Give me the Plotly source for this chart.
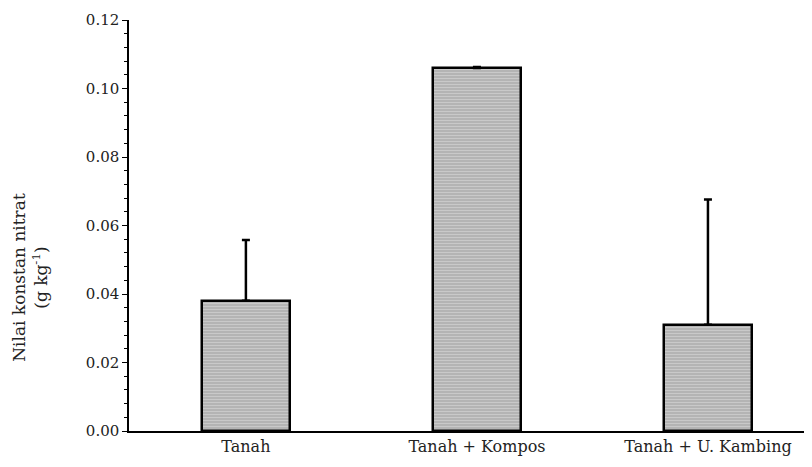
import plotly.graph_objects as go

categories = ["Tanah", "Tanah + Kompos", "Tanah + U. Kambing"]
values = [0.038, 0.106, 0.031]
errors = [0.0178, 0.0003, 0.0366]
y_ticks = [0.00, 0.02, 0.04, 0.06, 0.08, 0.10, 0.12]

fig = go.Figure()
fig.add_trace(go.Bar(
    x=[0, 1, 2],
    y=values,
    width=0.38,
    marker=dict(
        color="#c0c0c0",
        line=dict(color="black", width=2.5),
        pattern=dict(shape="-", fgcolor="#dedede", bgcolor="#b4b4b4", size=3, solidity=0.35),
    ),
    error_y=dict(type="data", symmetric=False, array=errors, arrayminus=[0, 0, 0],
                 color="black", thickness=2.5, width=4),
))

font_family = "DejaVu Serif, serif"
fig.update_layout(
    width=812, height=467,
    margin=dict(l=121, r=0, t=12, b=44),
    paper_bgcolor="white", plot_bgcolor="white",
    showlegend=False,
    font=dict(family=font_family, size=16, color="#222"),
    bargap=0,
)
fig.update_xaxes(
    range=[-0.506, 2.485],
    tickmode="array", tickvals=[0, 1, 2], ticktext=categories,
    showline=True, linecolor="black", linewidth=1.5,
    ticks="", showgrid=False, zeroline=False,
    tickfont=dict(size=16, family=font_family, color="#222"),
)
fig.update_yaxes(
    range=[0, 0.12],
    tickmode="array", tickvals=y_ticks, ticktext=[f"{v:.2f}" for v in y_ticks],
    showline=True, linecolor="black", linewidth=1.5,
    ticks="outside", ticklen=5, tickwidth=1, tickcolor="black",
    minor=dict(ticks="outside", ticklen=3, dtick=0.004, tickcolor="black", tickwidth=1),
    showgrid=False, zeroline=False,
    tickfont=dict(size=15, family=font_family, color="#222"),
)
fig.add_annotation(
    text="Nilai konstan nitrat<br>(g kg<sup>-1</sup>)",
    textangle=-90, showarrow=False,
    xref="paper", yref="paper", x=-0.1433, y=0.375,
    xanchor="center", yanchor="middle",
    font=dict(size=17, family=font_family, color="#222"),
)
fig.write_html("out.html")
